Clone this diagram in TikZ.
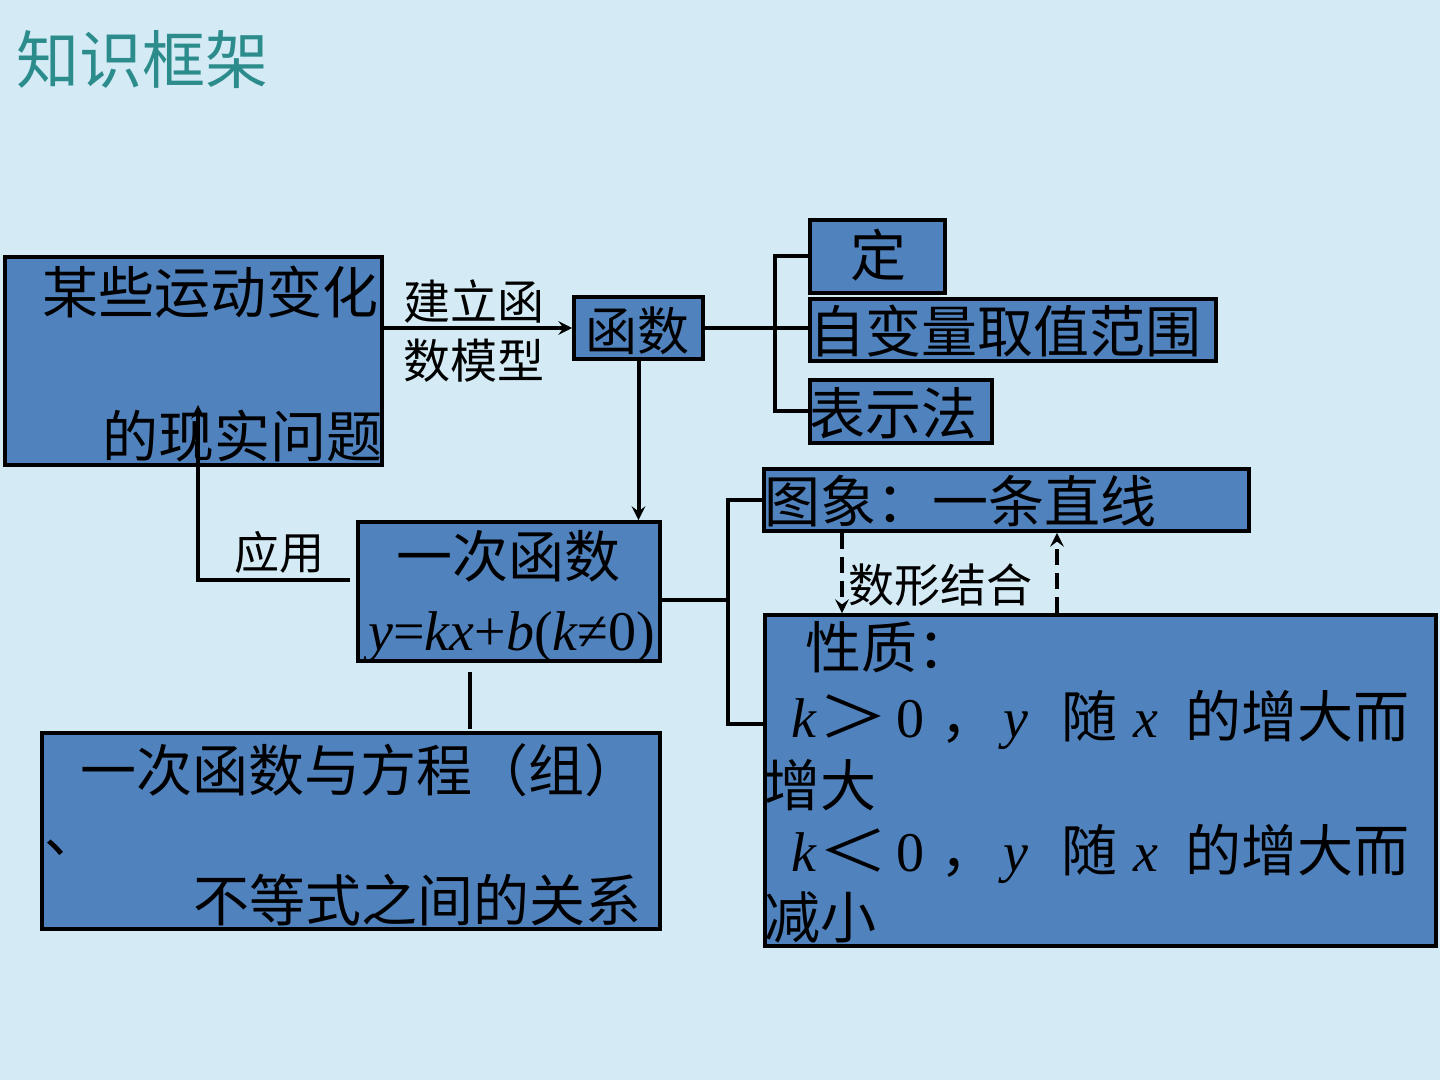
\documentclass[tikz,border=0pt]{standalone}
\usepackage{fontspec}
\setmainfont{Liberation Serif}
\newfontfamily\cjk{Noto Sans CJK SC}
\usepackage{graphicx}
\usepackage{tikz}
\usetikzlibrary{arrows,fit}
\definecolor{bgblue}{RGB}{212,235,246}
\definecolor{boxblue}{RGB}{80,130,190}
\definecolor{titleteal}{RGB}{44,140,140}
\tikzset{
  box/.style={draw,fill=boxblue,line width=1.8pt,inner sep=0pt},
  txt/.style={anchor=base west,inner sep=0pt,font=\cjk\fontsize{28}{30}\selectfont},
  lbl/.style={anchor=base west,inner sep=0pt,font=\cjk\fontsize{23}{25}\selectfont},
  link/.style={line width=2pt},
}
\newcommand{\ital}[1]{{\rmfamily\itshape #1}}
\newcommand{\propline}[1]{\makebox[13.5pt][l]{\ital{k}}\makebox[39pt][l]{\scalebox{1.25}[1]{#1}}\makebox[22pt][l]{\rmfamily 0}\makebox[31.5pt][l]{，}\makebox[29pt][l]{\ital{y}}\makebox[36pt][l]{随}\makebox[26pt][l]{\ital{x}}的增大而}

\begin{document}
\begin{tikzpicture}[x=0.5pt,y=-0.5pt,>=stealth]
  \fill[bgblue] (0,0) rectangle (1440,1080);
  \useasboundingbox (0,0) rectangle (1440,1080);
  \node[anchor=base west,inner sep=0pt,text=titleteal,font=\cjk\fontsize{31.5}{33}\selectfont] (title) at (16,84) {知识框架};

  % boxes
  \node[box,fit={(5,257) (382,465)}] (real) {};
  \node[box,fit={(574,297) (703,359)}] (func) {};
  \node[box,fit={(810,220) (945,293)}] (ding) {};
  \node[box,fit={(810,299) (1216,361)}] (zbl) {};
  \node[box,fit={(810,380) (992,443)}] (bsf) {};
  \node[box,fit={(358,522) (660,661)}] (lin) {};
  \node[box,fit={(42,733) (660,929)}] (rel) {};
  \node[box,fit={(764,469) (1249,531)}] (graph) {};
  \node[box,fit={(765,615) (1436,946)}] (prop) {};

  % texts
  \node[txt] (realA) at (42,314) {某些运动变化};
  \node[txt] (realB) at (102,458) {的现实问题};
  \node[lbl,font=\cjk\fontsize{23.5}{25}\selectfont] (modelA) at (403,320) {建立函};
  \node[lbl,font=\cjk\fontsize{23.5}{25}\selectfont] (modelB) at (403,379) {数模型};
  \node[txt,font=\cjk\fontsize{26}{28}\selectfont] (funcT) at (585,351) {函数};
  \node[txt,anchor=base] (dingT) at (878,277) {定};
  \node[txt] (zblT) at (809,353) {自变量取值范围};
  \node[txt] (bsfT) at (809,435) {表示法};
  \node[txt] (linT) at (396,577) {一次函数};
  \node[anchor=base west,inner sep=0pt,font=\fontsize{28}{30}\selectfont] (eq) at (368,650)
    {\ital{y}=\ital{kx}+\ital{b}(\ital{k}≠0)};
  \node[lbl,font=\cjk\fontsize{22.5}{24}\selectfont] (use) at (234,569) {应用};
  \node[txt] (relA) at (80,791) {一次函数与方程（组）};
  \node[txt] (relB) at (44,852) {、};
  \node[txt] (relC) at (193,921) {不等式之间的关系};
  \node[txt] (graphT) at (764,523) {图象：一条直线};
  \node[lbl] (mix) at (848,602) {数形结合};
  \node[txt] (propT) at (805,668) {性质：};
  \node[txt] (propA) at (791,737) {\propline{＞}};
  \node[txt] (propB) at (764,806) {增大};
  \node[txt] (propC) at (791,871) {\propline{＜}};
  \node[txt] (propD) at (764,938) {减小};

  % connectors
  \draw[link,->] (real.east |- func) -- (func.west);
  \coordinate (fork) at (775,328);
  \draw[link] (func.east) -- (zbl.west |- func.east);
  \draw[link] (ding.west) -| (fork) |- (bsf.west);
  \draw[link,->] (func.south) -- (func.south |- lin.north);
  \coordinate (usestart) at (350,580);
  \coordinate (useend) at (198,405);
  \draw[link,->] (usestart) -| (useend);
  \coordinate (g1) at (470,672);
  \coordinate (g2) at (470,729);
  \draw[link] (g1) -- (g2);
  \coordinate (fork2) at (728,600);
  \coordinate (fork3) at (728,724);
  \draw[link] (lin.east |- fork2) -- (fork2);
  \draw[link] (graph.west) -| (fork3) -- (prop.west |- fork3);
  \coordinate (d1) at (842,0);
  \coordinate (d2) at (1057,0);
  \draw[link,dash pattern=on 8pt off 4pt,->] (graph.south -| d1) -- (prop.north -| d1);
  \draw[link,dash pattern=on 8pt off 4pt,->] (prop.north -| d2) -- (graph.south -| d2);
\end{tikzpicture}
\end{document}
